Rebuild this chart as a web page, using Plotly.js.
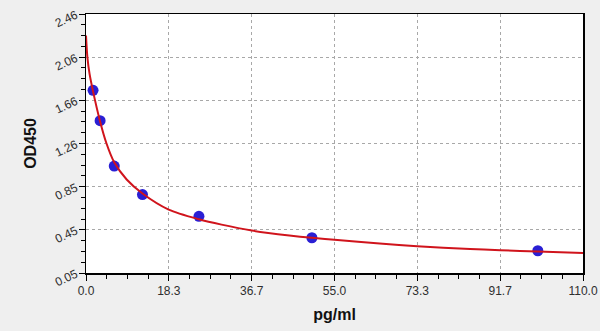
<!DOCTYPE html>
<html>
<head>
<meta charset="utf-8">
<script src="https://cdn.plot.ly/plotly-3.0.1.min.js"></script>
<style>html,body{margin:0;padding:0;background:#efefef;}#chart{width:600px;height:331px;}</style>
</head>
<body>
<div id="chart"></div>
<script>
// Standard points (pg/ml vs OD450)
const stdConc = [1.56, 3.12, 6.25, 12.5, 25, 50, 100];
const stdOD = [1.75, 1.467, 1.045, 0.78, 0.577, 0.378, 0.257];

// Fitted curve
const curveConc = [0, 0.3, 0.8, 1.56, 3.12, 4.5, 6.25, 9, 12.5, 18.3, 25, 30, 36.7, 45, 50, 55, 65, 73.3, 85, 91.7, 100, 110];
const curveOD = [2.26, 2.06, 1.90, 1.74, 1.46, 1.26, 1.08, 0.92, 0.79, 0.64, 0.55, 0.50, 0.445, 0.40, 0.378, 0.36, 0.325, 0.30, 0.273, 0.262, 0.25, 0.235];

// Tick labels
const xTickVals = [0, 18.333, 36.667, 55, 73.333, 91.667, 110];
const xTickText = ["0.0", "18.3", "36.7", "55.0", "73.3", "91.7", "110.0"];
const yTickVals = [0.05, 0.4517, 0.8533, 1.255, 1.6567, 2.0583, 2.46];
const yTickText = ["0.05", "0.45", "0.85", "1.26", "1.66", "2.06", "2.46"];

const traces = [
  {
    x: stdConc, y: stdOD, type: 'scatter', mode: 'markers',
    marker: {color: '#2a1fd4', size: 11},
    hoverinfo: 'skip', showlegend: false
  },
  {
    x: curveConc, y: curveOD, type: 'scatter', mode: 'lines',
    line: {color: '#d0141c', width: 2, shape: 'spline', smoothing: 0.8},
    hoverinfo: 'skip', showlegend: false
  }
];

const tickFont = {family: 'Liberation Sans, Arial, sans-serif', size: 12, color: '#2e2e2e'};

const layout = {
  width: 600, height: 331,
  margin: {l: 86, r: 17, t: 14, b: 58},
  paper_bgcolor: '#efefef',
  plot_bgcolor: '#ffffff',
  xaxis: {
    range: [0, 110],
    tickmode: 'array', tickvals: xTickVals, ticktext: xTickText,
    ticks: 'outside', ticklen: 6, tickwidth: 1, tickcolor: '#000',
    minor: {tickmode: 'linear', tick0: 0, dtick: 110/24, ticks: 'outside', ticklen: 4, tickcolor: '#000', showgrid: false},
    showline: true, linecolor: '#000', linewidth: 1.5, mirror: true,
    showgrid: true, gridcolor: '#a8a8a8', griddash: '3px,3px', gridwidth: 1,
    zeroline: false,
    tickfont: tickFont,
    title: {text: '<b>pg/ml</b>', font: {family: 'Liberation Sans, Arial, sans-serif', size: 16, color: '#111'}, standoff: 12}
  },
  yaxis: {
    range: [0.05, 2.46],
    tickmode: 'array', tickvals: yTickVals, ticktext: yTickText,
    tickangle: -25,
    ticks: 'outside', ticklen: 6, tickwidth: 1, tickcolor: '#000',
    minor: {tickmode: 'linear', tick0: 0.05, dtick: 2.41/24, ticks: 'outside', ticklen: 4, tickcolor: '#000', showgrid: false},
    showline: true, linecolor: '#000', linewidth: 1.5, mirror: true,
    showgrid: true, gridcolor: '#a8a8a8', griddash: '3px,3px', gridwidth: 1,
    zeroline: false,
    tickfont: tickFont,
    title: {text: '<b>OD450</b>', font: {family: 'Liberation Sans, Arial, sans-serif', size: 16, color: '#111'}, standoff: 12}
  }
};

Plotly.newPlot('chart', traces, layout, {staticPlot: true, displayModeBar: false});
</script>
</body>
</html>
